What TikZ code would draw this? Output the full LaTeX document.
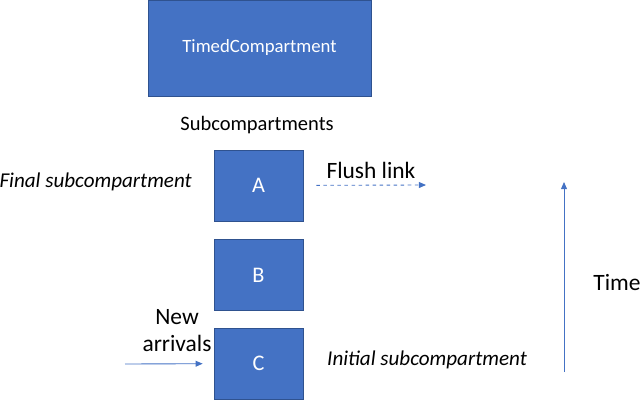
\documentclass[tikz,border=0pt]{standalone}
\usepackage{fontspec}
\setmainfont{Carlito}
\usepackage{tikz}
\usetikzlibrary{arrows.meta}
\definecolor{boxblue}{HTML}{4472C4}
\definecolor{boxline}{HTML}{2F528F}

\begin{document}
\begin{tikzpicture}[x=0.03cm, y=-0.03cm]
\tikzset{compbox/.style = {shape=rectangle, draw=boxline, fill=boxblue, text=white, line width=0.6pt, font=\fontsize{16}{19}\selectfont}}
\tikzset{subbox/.style = {compbox, minimum width=2.67cm, minimum height=2.13cm, inner sep=0pt, font=\fontsize{19}{23}\selectfont}}
\tikzset{lbl/.style = {inner sep=0pt, font=\fontsize{17.5}{21}\selectfont}}
\tikzset{itlbl/.style = {inner sep=0pt, font=\fontsize{18}{22}\selectfont\itshape}}
\tikzset{biglbl/.style = {inner sep=0pt, font=\fontsize{20}{23}\selectfont, align=center}}
\tikzset{edge/.style = {draw=boxblue, line width=0.75pt, -{Triangle[length=6pt, width=5pt]}}}
\useasboundingbox (0,0) rectangle (642,401);
% compartment
\node[compbox, minimum width=6.69cm, minimum height=2.88cm] (timed) at (259.5,48) {TimedCompartment};
\node[lbl] (subs) at (257,125) {Subcompartments};
% subcompartments
\node[subbox] (A) at (258.5,185.5) {A};
\node[subbox] (B) at (258.5,275) {B};
\node[subbox] (C) at (258.5,363.5) {C};
% labels
\node[itlbl, anchor=east] (final) at (192,182) {Final subcompartment};
\node[itlbl, anchor=west] (initial) at (327,360) {Initial subcompartment};
\node[biglbl] (flush) at (371,170) {Flush link};
\node[biglbl] (arrivals) at (177,331) {New\\arrivals};
\node[biglbl] (time) at (617,283) {Time};
\coordinate (flushend) at (426,185);
\coordinate (arrstart) at (125,364);
\coordinate (tbot) at (564,372);
\coordinate (ttop) at (564,182);
%edges
\draw[edge, dashed, shorten <=0.39cm] (A) -- (flushend);
\draw[edge, shorten >=0.33cm] (arrstart) -- (C);
\draw[edge] (tbot) -- (ttop);
\end{tikzpicture}
\end{document}
